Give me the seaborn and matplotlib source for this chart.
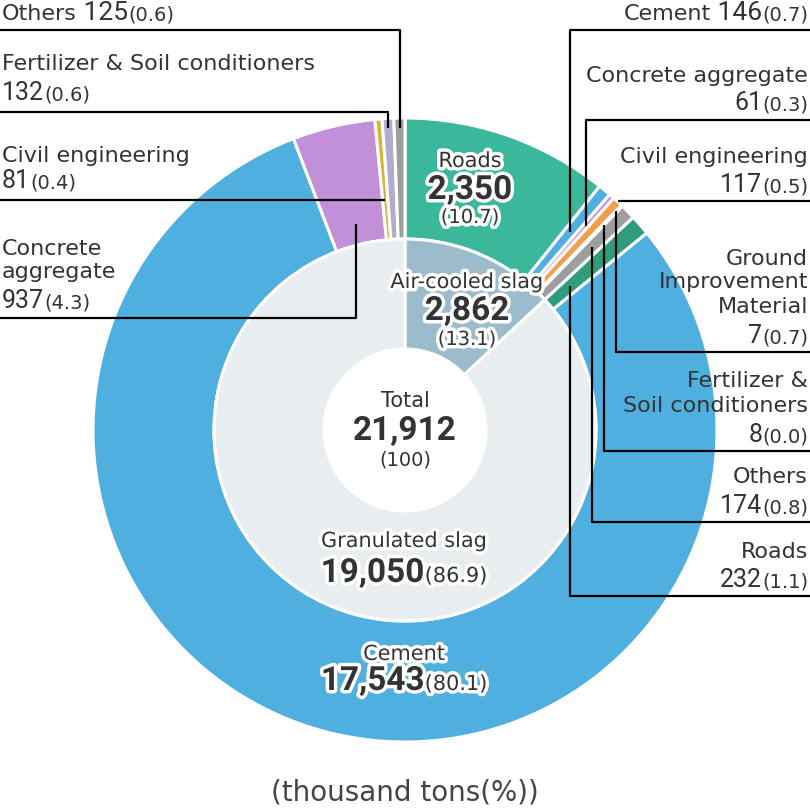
import matplotlib
matplotlib.use("Agg")
import matplotlib.pyplot as plt
import matplotlib.patheffects as pe
import numpy as np
import seaborn as sns

# inner ring: slag types
slag_types = ["Air-cooled slag", "Granulated slag"]
slag_values = [2862, 19050]
slag_pct = [13.1, 86.9]
total_value = 21912
total_pct = 100

# outer ring: uses, clockwise from 12 o'clock (air-cooled first, then granulated)
use_labels = ["Roads", "Cement", "Concrete aggregate", "Civil engineering",
              "Ground Improvement Material", "Fertilizer & Soil conditioners", "Others", "Roads",
              "Cement", "Concrete aggregate", "Civil engineering",
              "Fertilizer & Soil conditioners", "Others"]
use_values = [2350, 146, 61, 117, 7, 8, 174, 232, 17543, 937, 81, 132, 125]
use_pct = [10.7, 0.7, 0.3, 0.5, 0.7, 0.0, 0.8, 1.1, 80.1, 4.3, 0.4, 0.6, 0.6]

slag_colors = ["#9dbccb", "#e8eef0"]
use_colors = ["#3bb89b", "#4fb0df", "#c28fd9", "#f0a04b", "#e07a7a", "#b4aacb", "#9e9e9e", "#2f9c7d",
              "#4fb0df", "#c28fd9", "#d9b43c", "#b4aacb", "#9e9e9e"]

TXT = "#333333"
LAB_FONT = "DejaVu Sans"
NUM_FONT = "Roboto"

sns.set_theme(style="white")

fig = plt.figure(figsize=(8.1, 8.09), dpi=100)
ax = fig.add_axes([0, 0, 1, 1])

# pixel-like coordinates, y pointing down
CX, CY = 405, 430
R_OUT, R_MID, R_IN = 312, 191, 81

ax.pie(use_values, colors=use_colors, radius=R_OUT, center=(CX, CY),
       startangle=270, counterclock=True,
       wedgeprops=dict(width=R_OUT - R_MID, edgecolor="white", linewidth=2.2))
ax.pie(slag_values, colors=slag_colors, radius=R_MID, center=(CX, CY),
       startangle=270, counterclock=True,
       wedgeprops=dict(width=R_MID - R_IN, edgecolor="white", linewidth=2.2))

ax.set_xlim(0, 810)
ax.set_ylim(809, 0)
ax.set_aspect("equal")
ax.axis("off")

renderer = fig.canvas.get_renderer()


def rich(x, y, parts, ha="left", halo=False):
    arts = []
    for s, size, weight, fam in parts:
        t = ax.text(0, y, s, fontsize=size, fontweight=weight, family=fam, color=TXT,
                    va="baseline", ha="left", zorder=10)
        if halo:
            t.set_path_effects([pe.withStroke(linewidth=5, foreground="white")])
        arts.append(t)
    widths = [t.get_window_extent(renderer).width for t in arts]
    total = sum(widths)
    x0 = {"left": x, "right": x - total, "center": x - total / 2}[ha]
    for t, w in zip(arts, widths):
        t.set_x(x0)
        x0 += w


def lab(s, size=16):
    return (s, size, "normal", LAB_FONT)


def num(v, size=18, weight="normal", pre=""):
    return (pre + f"{v:,}", size, weight, NUM_FONT)


def par(p, size=14):
    return (f"({p:g})" if p == 100 else f"({p:.1f})", size, "normal", LAB_FONT)


# mid angle of each outer wedge (degrees clockwise from north)
cum = np.cumsum([0] + use_values)
mid_deg = (cum[:-1] + cum[1:]) / 2 / cum[-1] * 360


def leader(i, row_y, end_x, tip_r=None):
    th = np.radians(mid_deg[i])
    if tip_r is None:
        tip_r = (CY - row_y) / np.cos(th)
    tx = CX + tip_r * np.sin(th)
    ty = CY - tip_r * np.cos(th)
    ax.plot([tx, tx, end_x], [ty, row_y, row_y], color="black", lw=1.6,
            solid_capstyle="butt", zorder=5)


# left side annotations
rich(2, 20, [lab("Others"), num(use_values[12], 19, pre=" "), par(use_pct[12])])
leader(12, 30, 0, 302)

rich(2, 70, [lab("Fertilizer & Soil conditioners")])
rich(2, 100, [num(use_values[11]), par(use_pct[11])])
leader(11, 112, 0, 302)

rich(2, 162, [lab("Civil engineering")])
rich(2, 188, [num(use_values[10]), par(use_pct[10])])
leader(10, 200, 0)

rich(2, 255, [lab("Concrete")])
rich(2, 278, [lab("aggregate")])
rich(2, 308, [num(use_values[9]), par(use_pct[9])])
leader(9, 318, 0, 212)

# right side annotations
RX = 808
rich(RX, 20, [lab("Cement"), num(use_values[1], 19, pre=" "), par(use_pct[1])], ha="right")
leader(1, 30, 810, 258)

rich(RX, 82, [lab("Concrete aggregate")], ha="right")
rich(RX, 110, [num(use_values[2]), par(use_pct[2])], ha="right")
leader(2, 120, 810, 273)

rich(RX, 163, [lab("Civil engineering")], ha="right")
rich(RX, 192, [num(use_values[3]), par(use_pct[3])], ha="right")
leader(3, 201, 810)

rich(RX, 265, [lab("Ground")], ha="right")
rich(RX, 288, [lab("Improvement")], ha="right")
rich(RX, 313, [lab("Material")], ha="right")
rich(RX, 343, [num(use_values[4]), par(use_pct[4])], ha="right")
leader(4, 352, 810, 304)

rich(RX, 387, [lab("Fertilizer &")], ha="right")
rich(RX, 412, [lab("Soil conditioners")], ha="right")
rich(RX, 442, [num(use_values[5]), par(use_pct[5])], ha="right")
leader(5, 451, 810, 286)

rich(RX, 483, [lab("Others")], ha="right")
rich(RX, 513, [num(use_values[6]), par(use_pct[6])], ha="right")
leader(6, 522, 810, 262)

rich(RX, 558, [lab("Roads")], ha="right")
rich(RX, 587, [num(use_values[7]), par(use_pct[7])], ha="right")
leader(7, 596, 810, 219)

# labels inside the rings
rich(470, 167, [lab("Roads", 15)], ha="center", halo=True)
rich(470, 199, [num(use_values[0], 24, "bold")], ha="center", halo=True)
rich(470, 223, [par(use_pct[0], 14)], ha="center", halo=True)

rich(467, 288, [lab(slag_types[0], 15)], ha="center", halo=True)
rich(467, 320, [num(slag_values[0], 24, "bold")], ha="center", halo=True)
rich(467, 345, [par(slag_pct[0], 14)], ha="center", halo=True)

rich(405, 407, [lab("Total", 15)], ha="center")
rich(405, 440, [num(total_value, 24, "bold")], ha="center")
rich(405, 465, [par(total_pct, 14)], ha="center")

rich(404, 547, [lab(slag_types[1], 15)], ha="center", halo=True)
rich(404, 582, [num(slag_values[1], 24, "bold"), par(slag_pct[1], 15)], ha="center", halo=True)

rich(404, 660, [lab("Cement", 15)], ha="center", halo=True)
rich(404, 690, [num(use_values[8], 24, "bold"), par(use_pct[8], 15)], ha="center", halo=True)

ax.text(405, 800, "(thousand tons(%))", fontsize=20, family=LAB_FONT, color="#444444",
        ha="center", va="baseline")

fig.savefig("out.png", dpi=100, facecolor="white")
